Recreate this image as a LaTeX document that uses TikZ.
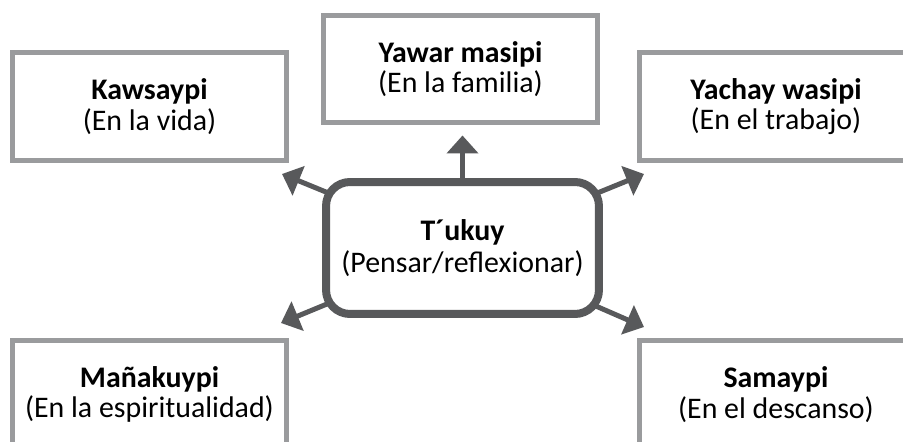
\documentclass[tikz,border=0pt]{standalone}
\usepackage{fontspec}
\setmainfont{Carlito}
\usetikzlibrary{arrows.meta,backgrounds}
\definecolor{boxgray}{HTML}{9A9B9D}
\definecolor{arrowgray}{HTML}{58595B}

\begin{document}
\begin{tikzpicture}[x=0.02cm, y=-0.02cm,
    place/.style={rectangle, draw=boxgray, line width=0.1cm, fill=white, minimum width=5.48cm, minimum height=2.16cm, inner sep=0pt, align=center, font=\fontsize{17}{17.5}\selectfont},
    thought/.style={rectangle, rounded corners=0.48cm, draw=arrowgray, line width=0.16cm, fill=white, minimum width=5.46cm, minimum height=2.64cm, inner sep=0pt, align=center, font=\fontsize{17}{18}\selectfont},
    link/.style={draw=arrowgray, line width=0.1cm, -{Triangle[width=0.62cm, length=0.36cm]}}]
    \useasboundingbox (0,0) rectangle (903,442);
    \clip (0,0) rectangle (903,442);

    % the five places
    \node [place] (kawsay) at (149.5,106.5) {\textbf{Kawsaypi}\\(En la vida)};
    \node [place] (yawar) at (460.5,69) {\textbf{Yawar masipi}\\(En la familia)};
    \node [place] (yachay) at (776,106.5) {\textbf{Yachay wasipi}\\(En el trabajo)};
    \node [place] (manakuy) at (149.5,394.5) {\textbf{Mañakuypi}\\(En la espiritualidad)};
    \node [place] (samay) at (776,394.5) {\textbf{Samaypi}\\(En el descanso)};

    % centre
    \node [thought] (tukuy) at (462.5,248) {\textbf{T´ukuy}\\(Pensar/reflexionar)};

    \coordinate (tl) at (282,174);
    \coordinate (tr) at (644,174);
    \coordinate (bl) at (281,323);
    \coordinate (br) at (644,327);

    \draw [link, shorten >=0.2cm] (tukuy.north) -- (tukuy.north |- yawar.south);
    \begin{scope}[on background layer]
        \draw [link] (tukuy.center) -- (tl);
        \draw [link] (tukuy.center) -- (tr);
        \draw [link] (tukuy.center) -- (bl);
        \draw [link] (tukuy.center) -- (br);
    \end{scope}
\end{tikzpicture}
\end{document}
